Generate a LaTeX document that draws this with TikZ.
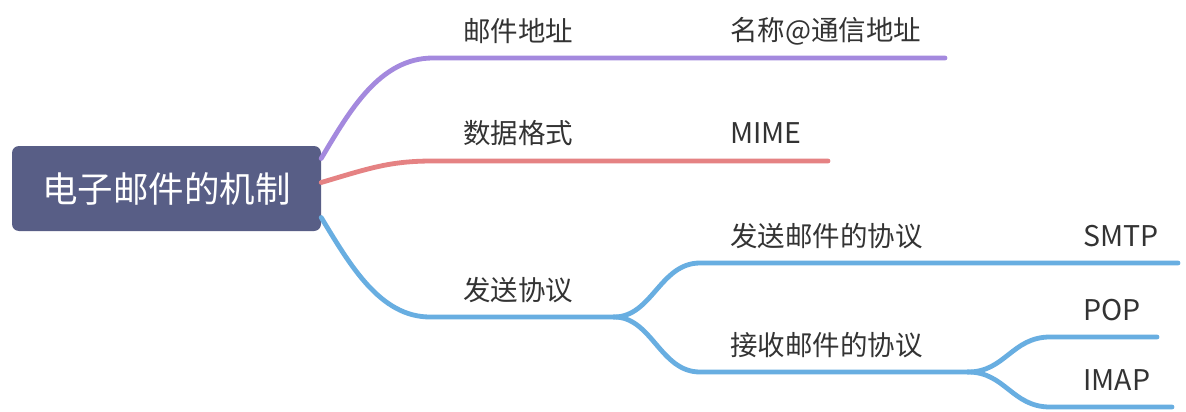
\documentclass[tikz,border=0pt]{standalone}
\usepackage{fontspec}
\setmainfont{Noto Sans CJK SC}
\definecolor{rootfill}{HTML}{585E86}
\definecolor{cpurple}{HTML}{A489DE}
\definecolor{cred}{HTML}{E58283}
\definecolor{cblue}{HTML}{68AEE1}
\definecolor{ctext}{HTML}{333333}
\tikzset{
  rootbox/.style={draw=none, fill=rootfill, rounded corners=7pt, minimum width=309pt, minimum height=85pt, inner sep=0pt, text=white, font=\fontsize{35.5}{40}\selectfont},
  lbl/.style={anchor=west, inner sep=0pt, text=ctext, font=\fontsize{27.5}{30}\selectfont},
  latinlbl/.style={lbl, font=\fontsize{28.5}{30}\selectfont},
  branch/.style={line width=4.8pt, line cap=round},
}
\begin{document}
\begin{tikzpicture}[x=1pt,y=-1pt]
\useasboundingbox (0,0) rectangle (1186,412);
\fill[white] (0,0) rectangle (1186,412);

% root
\node[rootbox] (root) at (166.5,188.5) {电子邮件的机制};

% labels
\node[lbl] (addr) at (463,31) {邮件地址};
\node[lbl] (addrv) at (730,31) {名称@通信地址};
\node[lbl] (fmt) at (463,133) {数据格式};
\node[latinlbl] (mime) at (730,133) {MIME};
\node[lbl] (proto) at (463,290) {发送协议};
\node[lbl] (send) at (730,236) {发送邮件的协议};
\node[latinlbl] (smtp) at (1083,236) {SMTP};
\node[lbl] (recv) at (730,345) {接收邮件的协议};
\node[latinlbl] (pop) at (1083,310) {POP};
\node[latinlbl] (imap) at (1083,380) {IMAP};

% junction coordinates
\coordinate (a1) at (433,58);
\coordinate (a2) at (945,58);
\coordinate (b1) at (433,161);
\coordinate (b2) at (828,161);
\coordinate (c1) at (430,317);
\coordinate (c2) at (614,317);
\coordinate (d1) at (700,263);
\coordinate (d2) at (1178,263);
\coordinate (e1) at (700,372);
\coordinate (e2) at (968,372);
\coordinate (f1) at (1050,337);
\coordinate (f2) at (1157,337);
\coordinate (g1) at (1050,407);
\coordinate (g2) at (1172,407);

% purple branch
\draw[branch, cpurple] ([yshift=30pt]root.east) .. controls (350,110) and (380,58) .. (a1) -- (a2);
% red branch
\draw[branch, cred] ([yshift=6pt]root.east) .. controls (370,168) and (390,161) .. (b1) -- (b2);
% blue branch
\draw[branch, cblue] ([yshift=-29pt]root.east) .. controls (350,265) and (380,317) .. (c1) -- (c2);
\draw[branch, cblue] (c2) .. controls (652,317) and (660,263) .. (d1) -- (d2);
\draw[branch, cblue] (c2) .. controls (652,317) and (660,372) .. (e1) -- (e2);
\draw[branch, cblue] (e2) .. controls (1005,372) and (1012,337) .. (f1) -- (f2);
\draw[branch, cblue] (e2) .. controls (1005,372) and (1012,407) .. (g1) -- (g2);
\end{tikzpicture}
\end{document}
